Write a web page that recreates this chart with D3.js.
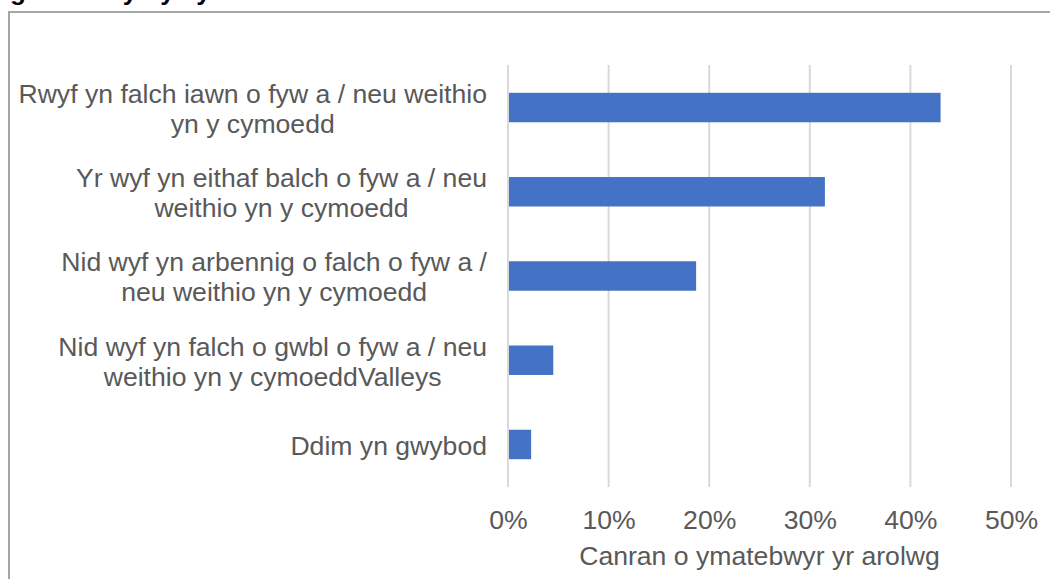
<!DOCTYPE html>
<html>
<head>
<meta charset="utf-8">
<script src="https://cdn.jsdelivr.net/npm/d3@7"></script>
<style>
  body { margin: 0; background: #fff; }
  svg { display: block; font-family: "Liberation Sans", Arial, sans-serif; }
</style>
</head>
<body>
<div id="chart"></div>
<script>
// Chart data
const titleText = 'gweithio yn y cymoedd';
const categoryLines = [
  ['Rwyf yn falch iawn o fyw a / neu weithio', 'yn y cymoedd'],
  ['Yr wyf yn eithaf balch o fyw a / neu', 'weithio yn y cymoedd'],
  ['Nid wyf yn arbennig o falch o fyw a /', 'neu weithio yn y cymoedd'],
  ['Nid wyf yn falch o gwbl o fyw a / neu', 'weithio yn y cymoeddValleys'],
  ['Ddim yn gwybod']
];
const values = [0.43, 0.315, 0.187, 0.045, 0.023];
const tickValues = [0, 0.1, 0.2, 0.3, 0.4, 0.5];
const xAxisTitle = 'Canran o ymatebwyr yr arolwg';

const width = 1050, height = 579;
const plot = {left: 508, right: 1011, top: 65, bottom: 487};
const labelRight = 487;
const fontSize = 26.6;
const textColor = '#595959';

const svg = d3.select('#chart').append('svg')
    .attr('width', width)
    .attr('height', height);

// title sits above the crop, only its descenders show at the top edge
svg.append('text')
    .attr('x', 10)
    .attr('y', 0)
    .attr('font-size', 26)
    .attr('font-weight', 'bold')
    .attr('fill', '#000')
    .text(titleText);

// chart border
svg.append('rect')
    .attr('x', 9)
    .attr('y', 12)
    .attr('width', 1060)
    .attr('height', 600)
    .attr('fill', 'none')
    .attr('stroke', '#a6a6a6')
    .attr('stroke-width', 2);

const x = d3.scaleLinear()
    .domain([0, 0.5])
    .range([plot.left, plot.right]);

const y = d3.scaleBand()
    .domain(d3.range(categoryLines.length))
    .range([plot.top, plot.bottom])
    .paddingInner(0.65)
    .paddingOuter(0.33);

// gridlines
svg.append('g')
    .selectAll('line')
    .data(tickValues)
    .join('line')
    .attr('x1', d => x(d))
    .attr('x2', d => x(d))
    .attr('y1', plot.top)
    .attr('y2', plot.bottom)
    .attr('stroke', '#d9d9d9')
    .attr('stroke-width', 2);

// bars
svg.append('g')
    .selectAll('rect')
    .data(values)
    .join('rect')
    .attr('x', x(0) + 1)
    .attr('y', (d, i) => y(i))
    .attr('width', d => x(d) - x(0) - 1)
    .attr('height', y.bandwidth())
    .attr('fill', '#4472c4');

// x axis tick labels
const xAxis = d3.axisBottom(x)
    .tickValues(tickValues)
    .tickFormat(d3.format('.0%'))
    .tickSize(0)
    .tickPadding(0);

const axisG = svg.append('g')
    .attr('transform', `translate(0,${plot.bottom + 23})`)
    .call(xAxis);
axisG.select('.domain').remove();
axisG.selectAll('text')
    .attr('font-size', fontSize)
    .attr('font-family', '"Liberation Sans", Arial, sans-serif')
    .attr('fill', textColor);

// axis title
svg.append('text')
    .attr('x', (plot.left + plot.right) / 2)
    .attr('y', 565)
    .attr('text-anchor', 'middle')
    .attr('font-size', fontSize)
    .attr('fill', textColor)
    .text(xAxisTitle);

// category labels: block right-aligned, lines centred inside it
const lineHeight = 30;
const labels = svg.append('g')
    .selectAll('text')
    .data(categoryLines)
    .join('text')
    .attr('font-size', fontSize)
    .attr('fill', textColor)
    .attr('text-anchor', 'middle');

labels.each(function(lines, i) {
  const t = d3.select(this);
  const cy = y(i) + y.bandwidth() / 2 + 1;
  const first = cy - (lines.length - 1) * lineHeight / 2;
  lines.forEach((line, j) => {
    t.append('tspan')
      .attr('y', first + j * lineHeight)
      .attr('dy', '0.35em')
      .text(line);
  });
  let maxW = 0;
  t.selectAll('tspan').each(function() {
    maxW = Math.max(maxW, this.getComputedTextLength());
  });
  t.selectAll('tspan').attr('x', labelRight - maxW / 2);
});
</script>
</body>
</html>
